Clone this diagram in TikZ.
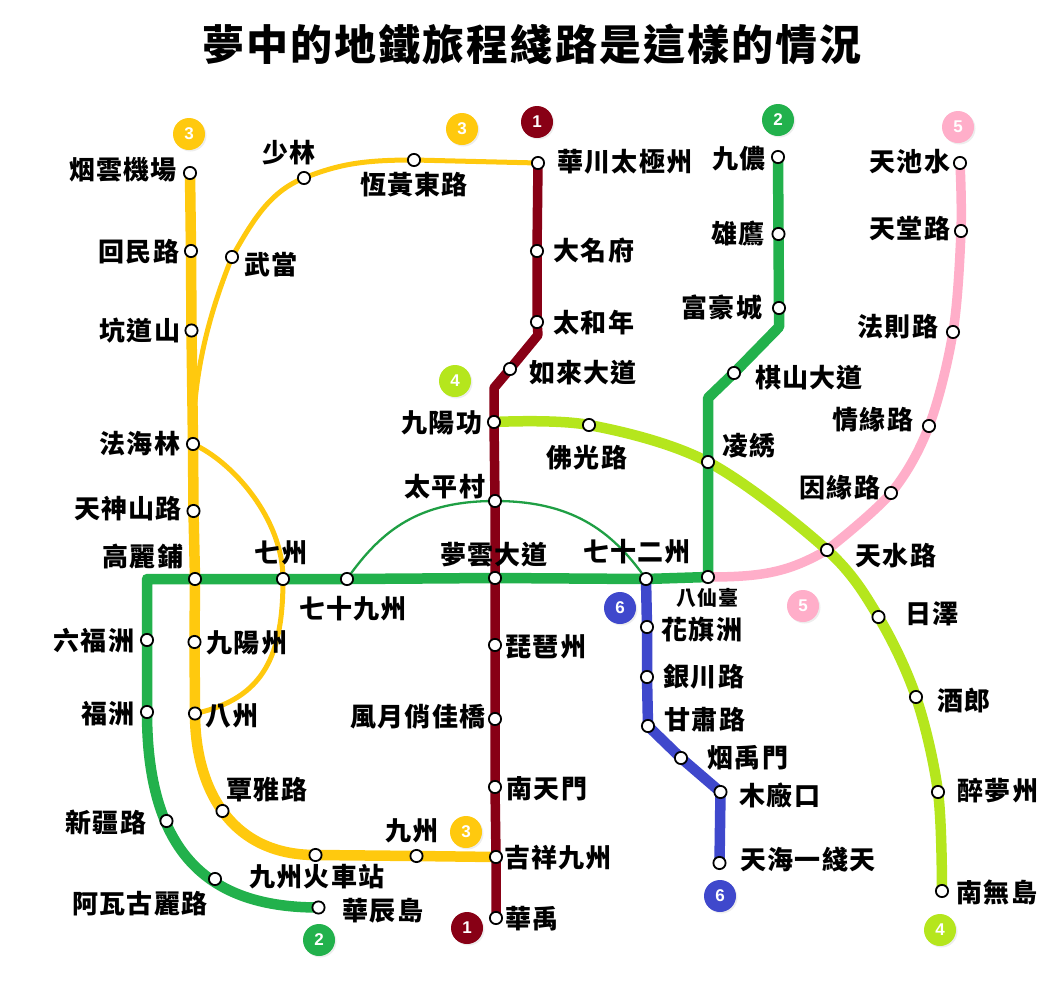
\documentclass[tikz,border=0pt]{standalone}
\usepackage{fontspec}
\usetikzlibrary{backgrounds}
\newfontfamily\cjkfont{Noto Sans CJK TC}[LetterSpace=5]
\newfontfamily\badgefont{Liberation Sans}
\definecolor{lineRed}{HTML}{880015}
\definecolor{lineGreen}{HTML}{22B14C}
\definecolor{lineYellow}{HTML}{FFC90E}
\definecolor{lineLime}{HTML}{B5E61D}
\definecolor{linePink}{HTML}{FFAEC9}
\definecolor{lineBlue}{HTML}{3F48CC}

\begin{document}
\begin{tikzpicture}
[x=1pt,y=-1pt,%
  lineDecorate/.style={-,line width=10.5pt,line join=round},%
  branchDecorate/.style={-,line width=5pt,color=lineYellow},%
  stationDecorate/.style={shape=circle,inner sep=0pt,minimum size=12.2pt,draw,line width=1.8pt,fill=white},%
  labelDecorate/.style={inner sep=0pt,font=\cjkfont\bfseries\fontsize{26}{26}\selectfont},%
  badgeDecorate/.style={shape=circle,inner sep=0pt,minimum size=32pt,text=white,%
    font=\badgefont\bfseries\fontsize{17}{17}\selectfont,%
    preaction={fill=black!7,transform canvas={xshift=1.5pt,yshift=-1.5pt}}}]
\useasboundingbox (0,0) rectangle (1055,999);
\node (title) at (532,44) [inner sep=0pt,font=\cjkfont\bfseries\fontsize{42}{44}\selectfont] {夢中的地鐵旅程綫路是這樣的情況};
%% stations and their labels
\foreach \nodename/\x/\y/\tx/\ty/\nodetext in {
  yanyun/190/173/123/170/烟雲機場, huimin/191/251/139/252/回民路, kengdao/191.5/330.5/140/331/坑道山,
  fahai/193/444/140/444/法海林, tianshen/193.5/511/128/509/天神山路, gaoli/195/579/143/557/高麗鋪,
  jiuyangzhou/194.5/642/247/643/九陽州, bazhou/195/713.5/232/716/八州, tanya/222.5/811/267/790/覃雅路,
  chezhan/315.5/855/317/877/九州火車站, jiuzhou/416.5/856/412/831/九州, jixiang/496/857/558/858/吉祥九州,
  wudang/232/257/271/265/武當, shaolin/304/178/289/153/少林, henghuang/414/160/414/185/恆黃東路,
  huachuan/538/163/625/162/華川太極州, daming/537/251/594/251/大名府, taihe/537/322/594/323/太和年,
  rulai/510/369/583/373/如來大道, jiuyanggong/494/422/442/423/九陽功, taiping/495/501/445/487/太平村,
  mengyun/495/578/494/555/夢雲大道, pipa/495/645/546/647/琵琶州, fengyue/495/719/418/717/風月俏佳橋,
  nantian/495/787/547/789/南天門, huayu/496/918/532/919/華禹,
  jiunong/778/157/739/159/九儂, xiongying/778.5/234/738/234/雄鷹, fuhao/779/308/722/307/富豪城,
  qishan/734/373/809/378/棋山大道, lingxiu/708/462/749/446/凌綉, baxian/708/577/707/598/{\fontsize{20}{20}\selectfont 八仙臺},
  qishier/646/579/637/552/七十二州, qishijiu/347/579/353/609/七十九州, qizhou/283/579/281/553/七州,
  liufu/147/640/94/641/六福洲, fuzhou/147/712/108/714/福洲, xinjiang/166.5/821/106/822/新疆路,
  awagu/215/879/140/904/阿瓦古麗路, huachen/318.5/907.5/383/911/華辰島,
  foguang/589/425/587/458/佛光路, tianshui/827/550/896/556/天水路, rize/878.5/617/932/614/日澤,
  jiulang/916/697/964/700/酒郎, zuimeng/938/792/998/791/醉夢州, nanwu/942/891/997/892/南無島,
  tianchi/960/163/910/162/天池水, tiantang/961/231/910/229/天堂路, faze/953/332/898/327/法則路,
  qingyuan/929/426/873/420/情緣路, yinyuan/891/493/840/488/因緣路,
  huaqi/647/627/702/630/花旗洲, yinchuan/647/677/704/677/銀川路, gansu/648/726/705/720/甘肅路,
  yanyu/681/758/748/758/烟禹門, muchang/720.5/792/780/795/木廠口, tianhai/719.5/863/808/860/天海一綫天}
{
  \node (\nodename) at (\x,\y) [stationDecorate] {};
  \node (\nodename-t) at (\tx,\ty) [labelDecorate] {\nodetext};
}
%% line numbers
\foreach \nodename/\x/\y/\linecolor/\nodetext in {
  badgeA/189/134/lineYellow/3, badgeB/462/129/lineYellow/3, badgeC/466/832/lineYellow/3,
  badgeD/537/122/lineRed/1, badgeE/467/928/lineRed/1, badgeF/778/120/lineGreen/2,
  badgeG/319/940/lineGreen/2, badgeH/455/381/lineLime/4, badgeI/940/930/lineLime/4,
  badgeJ/958/127/linePink/5, badgeK/803/606/linePink/5, badgeL/620/608/lineBlue/6,
  badgeM/720/896/lineBlue/6}
{
  \node (\nodename) at (\x,\y) [badgeDecorate,fill=\linecolor] {\nodetext};
}
%% bends of the lines
\coordinate (redBendA) at (538,335);
\coordinate (redBendB) at (494,388);
\coordinate (greenBendA) at (779,327);
\coordinate (greenBendB) at (708,398);
\coordinate (greenCorner) at (147,579);
%% lines
\begin{scope}[on background layer]
\draw[lineDecorate,linePink,line width=9.5pt] plot[smooth,tension=0.55] coordinates {(tianchi.center) (tiantang.center) (faze.center) (qingyuan.center) (yinyuan.center) (tianshui.center)}
  .. controls +(-38,22) and +(55,0) .. (baxian.center);
\draw[lineDecorate,lineLime] plot[smooth,tension=0.55] coordinates {(jiuyanggong.center) (foguang.center) (lingxiu.center) (tianshui.center) (rize.center) (jiulang.center) (zuimeng.center) (nanwu.center)};
\draw[lineDecorate,lineGreen] (jiunong.center) -- (xiongying.center) -- (fuhao.center) -- (greenBendA) -- (qishan.center) -- (greenBendB)
  -- (lingxiu.center) -- (baxian.center) -- (qishier.center) -- (mengyun.center) -- (qishijiu.center) -- (qizhou.center) -- (gaoli.center)
  -- (greenCorner) -- (liufu.center) -- (fuzhou.center) .. controls +(0,148) and +(-103.5,0) .. (huachen.center);
\draw[-,line width=2.3pt,color=lineGreen!90!black] (qishijiu.center) .. controls +(35,-50) and +(-75,0) .. (taiping.center)
  .. controls +(75,0) and +(-35,-50) .. (qishier.center);
\draw[lineDecorate,lineBlue] (qishier.center) -- (huaqi.center) -- (yinchuan.center) -- (gansu.center) -- (yanyu.center) -- (muchang.center) -- (tianhai.center);
\draw[branchDecorate] (huachuan.center) -- (henghuang.center) .. controls +(-50,0) and +(35,-14) .. (shaolin.center)
  .. controls +(-35,14) and +(20,-35) .. (wudang.center) .. controls +(-18,45) and +(0,-80) .. (fahai.center);
\draw[branchDecorate] (fahai.center) .. controls +(40,18) and +(0,-60) .. (qizhou.center)
  .. controls +(0,75) and +(70,-15) .. (bazhou.center);
\draw[lineDecorate,lineYellow] (yanyun.center) -- (huimin.center) -- (kengdao.center) -- (fahai.center) -- (tianshen.center) -- (gaoli.center)
  -- (jiuyangzhou.center) -- (bazhou.center) .. controls +(0,72) and +(-87,0) .. (chezhan.center) -- (jiuzhou.center) -- (jixiang.center);
\draw[lineDecorate,lineRed,line width=9.5pt] (huachuan.center) -- (daming.center) -- (taihe.center) -- (redBendA) -- (rulai.center) -- (redBendB)
  -- (jiuyanggong.center) -- (taiping.center) -- (mengyun.center) -- (pipa.center) -- (fengyue.center) -- (nantian.center) -- (jixiang.center) -- (huayu.center);
\end{scope}
\end{tikzpicture}
\end{document}
